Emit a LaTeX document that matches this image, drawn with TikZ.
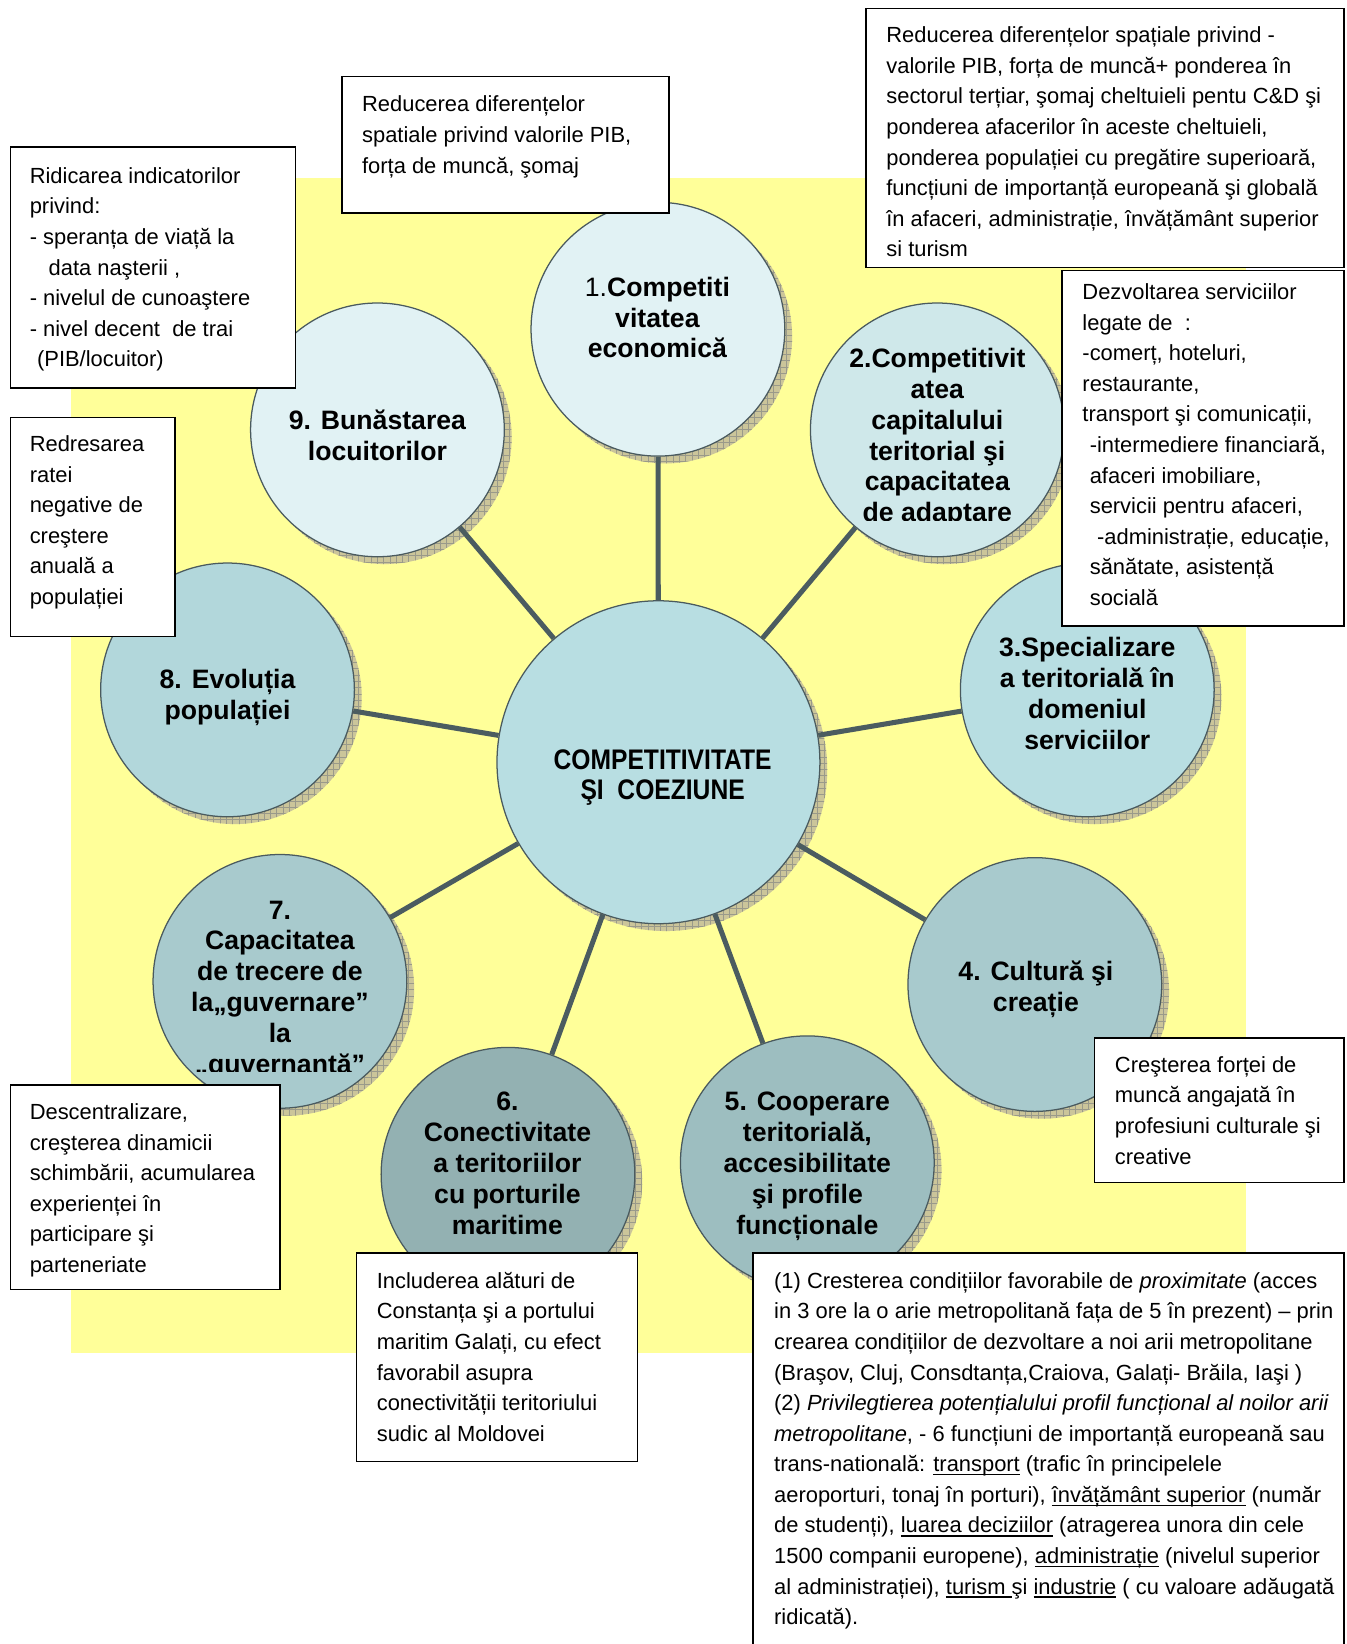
\documentclass[tikz,border=0pt]{standalone}
\usepackage{fontspec}
\setmainfont{Liberation Sans}
\newfontfamily\narrowfont[FakeStretch=0.87]{Liberation Sans}
\newsavebox\ulbox
\newcommand\myul[1]{\sbox\ulbox{#1}\rlap{\rule[-1.7pt]{\wd\ulbox}{0.65pt}}\usebox\ulbox}
\usetikzlibrary{fit,patterns,calc}
\definecolor{bgyellow}{HTML}{FFFF99}
\definecolor{circline}{HTML}{4A5A5E}
\definecolor{connline}{HTML}{4B5C60}
\definecolor{shadowcol}{HTML}{CBC59A}
\definecolor{gridcol}{HTML}{9A9A8A}
\definecolor{cA}{HTML}{E1F2F4}
\definecolor{cB}{HTML}{CFE8EA}
\definecolor{cC}{HTML}{B8DEE2}
\definecolor{cD}{HTML}{A8CACD}
\definecolor{cE}{HTML}{9DBEC0}
\definecolor{cF}{HTML}{93B1B2}
\pgfdeclarelayer{bg}
\pgfdeclarelayer{shadow}
\pgfdeclarelayer{lines}
\pgfsetlayers{bg,shadow,lines,main}
\tikzset{
  circ/.style={circle, draw=circline, line width=0.6pt, inner sep=0pt, minimum size=121pt},
  bigcirc/.style={circ, minimum size=154pt},
  conn/.style={draw=connline, line width=2.4pt},
  shadowst/.style={fill=shadowcol, postaction={pattern=grid, pattern color=gridcol}},
  boxst/.style={draw=black, line width=0.75pt, fill=white, inner sep=0pt},
  bodytext/.style={font=\fontsize{10.45}{14.58}\selectfont, align=left, anchor=north west, inner sep=0pt},
  circtext/.style={font=\fontsize{12.7}{14.7}\selectfont\bfseries, align=center, anchor=north, inner sep=0pt},
  centertext/.style={font=\narrowfont\fontsize{13.5}{14.5}\selectfont\bfseries, align=center, anchor=north, inner sep=0pt}
}
\begin{document}
\begin{tikzpicture}[x=0.5pt,y=-0.5pt]
\useasboundingbox (0,0) rectangle (1284,1568);
\begin{pgfonlayer}{bg}
\fill[bgyellow] (68,170) rectangle (1188,1290);
\end{pgfonlayer}

% circles
\node[bigcirc, fill=cC] (c0) at (628,727) {};
\node[circ, fill=cA] (c1) at (627.5,314) {};
\node[circ, fill=cB] (c2) at (894,410) {};
\node[circ, fill=cC] (c3) at (1037,658) {};
\node[circ, fill=cD] (c4) at (987,939) {};
\node[circ, fill=cE] (c5) at (770,1109) {};
\node[circ, fill=cF] (c6) at (484.5,1120) {};
\node[circ, fill=cD] (c7) at (267,936) {};
\node[circ, fill=cC!97!black] (c8) at (217,658) {};
\node[circ, fill=cA] (c9) at (360,410) {};

% shadows
\begin{pgfonlayer}{shadow}
\fill[shadowst] ($(c0)+(7,7)$) circle (77pt);
\foreach \n in {1,...,9}{
  \fill[shadowst] ($(c\n)+(7,7)$) circle (60.5pt);
}
\end{pgfonlayer}

% connectors
\begin{pgfonlayer}{lines}
\foreach \n in {1,...,9}{
  \draw[conn] (c0) -- (c\n);
}
\end{pgfonlayer}

% circle texts
\node[centertext] (t0) at (632,713) {\strut COMPETITIVITATE\\ŞI~~COEZIUNE};
\node[circtext] (t1) at (627,261.6) {\strut{\mdseries 1.}Competiti\\vitatea\\economică};
\begin{scope}
\clip (740,300) rectangle (1050,496);
\node[circtext] (t2) at (894,329.6) {\strut 2.Competitivit\\atea\\capitalului\\teritorial şi\\capacitatea\\de adaptare};
\end{scope}
\node[circtext] (t3) at (1037,605.6) {\strut 3.Specializare\\a teritorială în\\domeniul\\serviciilor};
\node[circtext] (t4) at (988,914.6) {\strut 4. Cultură şi\\creație};
\node[circtext] (t5) at (770,1038.6) {\strut 5. Cooperare\\teritorială,\\accesibilitate\\şi profile\\funcționale};
\node[circtext] (t6) at (484,1038.6) {\strut 6.\\Conectivitate\\a teritoriilor\\cu porturile\\maritime};
\begin{scope}
\clip (120,820) rectangle (420,1022);
\node[circtext] (t7) at (267,855.6) {\strut 7.\\Capacitatea\\de trecere de\\la„guvernare”\\la\\„guvernanță”};
\end{scope}
\node[circtext] (t8) at (217,635.6) {\strut 8. Evoluția\\populației};
\node[circtext] (t9) at (360,388.6) {\strut 9. Bunăstarea\\locuitorilor};

% boxes
\node[boxst, fit={(326,73) (638,203)}] (bA) {};
\node[bodytext] (xA) at (345,86) {\strut Reducerea diferențelor\\spatiale privind valorile PIB,\\forța de muncă, şomaj};

\node[boxst, fit={(826,8) (1282,255)}] (bB) {};
\node[bodytext] (xB) at (845,20) {\strut Reducerea diferențelor spațiale privind -\\valorile PIB, forța de muncă+ ponderea în\\sectorul terțiar, şomaj cheltuieli pentu C\&D şi\\ponderea afacerilor în aceste cheltuieli,\\ponderea populației cu pregătire superioară,\\funcțiuni de importanță europeană şi globală\\în afaceri, administrație, învățământ superior\\si turism};

\node[boxst, fit={(10,140) (282,370)}] (bC) {};
\node[bodytext] (xC) at (28,154) {\strut Ridicarea indicatorilor\\privind:\\- speranța de viață la\\\hspace*{9pt}data naşterii ,\\- nivelul de cunoaştere\\- nivel decent\ \ de trai\\\hspace*{3.5pt}(PIB/locuitor)};

\node[boxst, fit={(10,398) (167,607)}] (bD) {};
\node[bodytext] (xD) at (28,410) {\strut Redresarea\\ratei\\negative de\\creştere\\anuală a\\populației};

\node[boxst, fit={(1013,258) (1282,597)}] (bE) {};
\node[bodytext] (xE) at (1032,265) {\strut Dezvoltarea serviciilor\\legate de\ \ :\\-comerț, hoteluri,\\restaurante,\\transport şi comunicații,\\\hspace*{3.5pt}-intermediere financiară,\\\hspace*{3.5pt}afaceri imobiliare,\\\hspace*{3.5pt}servicii pentru afaceri,\\\hspace*{7pt}-administrație, educație,\\\hspace*{3.5pt}sănătate, asistență\\\hspace*{3.5pt}socială};

\node[boxst, fit={(1044,990) (1282,1128)}] (bF) {};
\node[bodytext] (xF) at (1063,1002) {\strut Creşterea forței de\\muncă angajată în\\profesiuni culturale şi\\creative};

\node[boxst, fit={(10,1035) (267,1230)}] (bG) {};
\node[bodytext] (xG) at (28,1047) {\strut Descentralizare,\\creşterea dinamicii\\schimbării, acumularea\\experienței în\\participare şi\\parteneriate};

\node[boxst, fit={(340,1195) (608,1394)}] (bH) {};
\node[bodytext] (xH) at (359,1208) {\strut Includerea alături de\\Constanța şi a portului\\maritim Galați, cu efect\\favorabil asupra\\conectivității teritoriului\\sudic al Moldovei};

\node[boxst, fit={(718,1195) (1282,1600)}] (bI) {};
\node[bodytext] (xI) at (738,1208) {\strut (1) Cresterea condițiilor favorabile de \textit{proximitate} (acces\\in 3 ore la o arie metropolitană fața de 5 în prezent) – prin\\crearea condițiilor de dezvoltare a noi arii metropolitane\\(Braşov, Cluj, Consdtanța,Craiova, Galați- Brăila, Iaşi )\\(2) \textit{Privilegtierea potențialului profil funcțional al noilor arii}\\\textit{metropolitane}, - 6 funcțiuni de importanță europeană sau\\trans-natională: \myul{transport} (trafic în principelele\\aeroporturi, tonaj în porturi), \myul{învățământ superior} (număr\\de studenți), \myul{luarea deciziilor} (atragerea unora din cele\\1500 companii europene), \myul{administrație} (nivelul superior\\al administrației), \myul{turism }şi \myul{industrie} ( cu valoare adăugată\\ridicată).};
\end{tikzpicture}
\end{document}
